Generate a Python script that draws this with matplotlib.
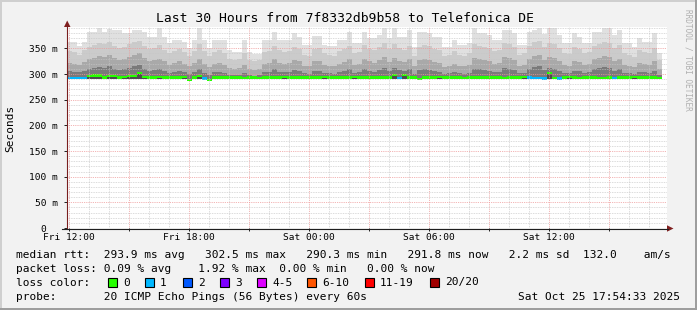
import numpy as np
import matplotlib
matplotlib.use("Agg")
import matplotlib.pyplot as plt
from matplotlib.patches import Rectangle, Polygon
from matplotlib.lines import Line2D
from matplotlib.ticker import MultipleLocator, FixedLocator

plt.rcParams['font.family'] = ['DejaVu Sans Mono', 'DejaVu Sans']

W, H = 697, 310

title = "Last 30 Hours from 7f8332db9b58 to Telefonica DE"
x_tick_hours = [0, 6, 12, 18, 24]
x_tick_labels = ["Fri 12:00", "Fri 18:00", "Sat 00:00", "Sat 06:00", "Sat 12:00"]
y_ticks = [0, 50, 100, 150, 200, 250, 300, 350]
y_tick_labels = ["0  ", "50 m", "100 m", "150 m", "200 m", "250 m", "300 m", "350 m"]

# samples: 15 min steps, first one just before Fri 12:00 (hours)
first_sample = -0.09
step_hours = 0.25

# median rtt per step (ms)
median_ms = [292, 292, 292, 292, 296, 297, 297, 293, 296, 296,
             293, 294, 296, 296, 302, 294, 293, 293, 294, 293,
             293, 293, 293, 294, 288, 293, 296, 291, 288, 293,
             293, 293, 293, 293, 293, 292, 293, 293, 292, 293,
             293, 293, 293, 294, 293, 293, 293, 293, 293, 293,
             293, 294, 293, 293, 293, 293, 293, 294, 293, 293,
             293, 293, 293, 293, 293, 298, 292, 298, 293, 293,
             290, 293, 293, 293, 294, 293, 293, 293, 293, 292,
             293, 293, 293, 293, 293, 293, 293, 292, 293, 293,
             293, 294, 293, 292, 292, 291, 302, 292, 291, 293,
             294, 293, 292, 293, 293, 293, 292, 292, 293, 292,
             293, 293, 293, 294, 293, 293, 293, 293, 292]

# lost pings (of 20) per step
lost_pings = [1, 1, 1, 1, 0, 0, 0, 0, 0, 0,
              0, 0, 0, 0, 0, 0, 0, 0, 0, 0,
              0, 0, 0, 0, 0, 0, 0, 1, 0, 0,
              0, 0, 0, 0, 0, 0, 0, 0, 0, 0,
              0, 0, 0, 0, 0, 0, 0, 0, 0, 0,
              0, 0, 0, 0, 0, 0, 0, 0, 0, 0,
              0, 0, 0, 0, 0, 0, 1, 0, 0, 0,
              0, 0, 0, 0, 0, 0, 0, 0, 0, 0,
              0, 0, 0, 0, 0, 0, 0, 0, 0, 0,
              0, 0, 1, 1, 1, 1, 0, 0, 1, 0,
              0, 0, 0, 0, 0, 0, 0, 0, 0, 1,
              0, 0, 0, 0, 0, 0, 0, 0, 0]

# smoke: lowest ping, three intermediate ping levels and highest ping (ms)
smoke_low = [290, 290, 290, 290, 291, 291, 291, 291, 291, 291,
             291, 291, 291, 291, 291, 291, 291, 291, 291, 291,
             291, 291, 291, 291, 286, 291, 291, 289, 286, 291,
             291, 291, 291, 291, 291, 290, 291, 291, 290, 291,
             291, 291, 291, 291, 291, 291, 291, 291, 291, 291,
             291, 291, 291, 291, 291, 291, 291, 291, 291, 291,
             291, 291, 291, 291, 291, 291, 290, 291, 291, 291,
             288, 291, 291, 291, 291, 291, 291, 291, 291, 290,
             291, 291, 291, 291, 291, 291, 291, 290, 291, 291,
             291, 291, 291, 290, 290, 289, 290, 290, 289, 291,
             291, 291, 290, 291, 291, 291, 290, 290, 291, 290,
             291, 291, 291, 291, 291, 291, 291, 291, 290]
smoke_top = [362, 362, 355, 362, 382, 382, 389, 382, 387, 386,
             386, 380, 380, 386, 386, 382, 373, 373, 389, 373,
             361, 367, 367, 362, 351, 367, 389, 367, 351, 367,
             367, 367, 347, 342, 342, 367, 343, 339, 339, 367,
             367, 382, 367, 367, 367, 380, 373, 357, 357, 374,
             374, 357, 355, 355, 367, 367, 382, 360, 360, 382,
             370, 370, 376, 389, 370, 389, 373, 373, 386, 353,
             382, 382, 380, 373, 373, 353, 353, 366, 357, 357,
             360, 389, 380, 380, 376, 366, 366, 386, 386, 380,
             357, 357, 382, 386, 389, 378, 389, 389, 376, 360,
             360, 380, 373, 360, 360, 382, 382, 389, 389, 376,
             386, 360, 360, 353, 370, 363, 363, 380, 341]
smoke_l1 = [345, 343, 338, 346, 352, 356, 360, 358, 362, 355,
            350, 352, 358, 362, 365, 355, 348, 350, 356, 347,
            340, 345, 348, 343, 336, 344, 358, 345, 335, 342,
            346, 340, 330, 328, 330, 341, 327, 325, 328, 343,
            345, 355, 346, 342, 345, 352, 348, 338, 336, 349,
            350, 340, 337, 335, 344, 348, 355, 340, 342, 356,
            348, 346, 352, 360, 348, 358, 350, 347, 355, 336,
            352, 356, 354, 348, 346, 335, 337, 344, 338, 336,
            340, 358, 355, 352, 350, 344, 346, 360, 358, 352,
            338, 340, 355, 362, 365, 352, 360, 358, 350, 340,
            339, 352, 348, 340, 342, 355, 358, 362, 360, 350,
            356, 340, 338, 334, 346, 342, 340, 350, 328]
smoke_l2 = [322, 320, 318, 324, 330, 332, 336, 334, 338, 332,
            328, 330, 334, 338, 340, 332, 326, 328, 330, 325,
            318, 322, 325, 320, 315, 322, 330, 320, 314, 320,
            322, 318, 312, 310, 312, 318, 310, 308, 310, 320,
            322, 330, 322, 320, 322, 328, 325, 316, 315, 325,
            326, 318, 316, 315, 320, 324, 330, 318, 320, 330,
            325, 322, 328, 334, 324, 332, 326, 324, 330, 315,
            328, 330, 328, 324, 322, 314, 316, 320, 316, 315,
            318, 332, 330, 328, 326, 320, 322, 334, 332, 328,
            316, 318, 330, 336, 338, 328, 334, 332, 326, 318,
            316, 326, 324, 318, 320, 330, 332, 336, 334, 326,
            330, 318, 316, 314, 322, 320, 318, 325, 310]
smoke_l3 = [305, 304, 303, 306, 309, 311, 314, 312, 315, 310,
            308, 309, 312, 315, 318, 310, 306, 307, 309, 305,
            302, 304, 306, 303, 300, 304, 310, 302, 299, 303,
            304, 302, 299, 298, 299, 302, 298, 297, 298, 303,
            304, 309, 304, 303, 304, 308, 306, 301, 300, 305,
            306, 302, 301, 300, 303, 305, 309, 302, 303, 309,
            306, 304, 307, 312, 305, 311, 307, 305, 309, 300,
            307, 309, 308, 305, 304, 300, 301, 303, 301, 300,
            302, 310, 309, 308, 306, 303, 304, 312, 310, 308,
            301, 302, 309, 314, 316, 307, 312, 310, 306, 302,
            301, 306, 305, 302, 303, 309, 311, 314, 312, 306,
            309, 302, 301, 300, 304, 303, 302, 306, 298]

loss_labels = ["0", "1", "2", "3", "4-5", "6-10", "11-19", "20/20"]
loss_colors = ["#26ff00", "#00b8ff", "#0059ff", "#7e00ff",
               "#dd00ff", "#ff5500", "#ff0000", "#a10000"]

legend_rtt = ("median rtt:  293.9 ms avg   302.5 ms max   290.3 ms min   "
              "291.8 ms now   2.2 ms sd  132.0    am/s")
legend_loss = "packet loss: 0.09 % avg    1.92 % max  0.00 % min   0.00 % now"
probe_text = "probe:       20 ICMP Echo Pings (56 Bytes) every 60s"
stamp_text = "Sat Oct 25 17:54:33 2025"


def loss_index(n):
    if n <= 3:
        return n
    if n <= 5:
        return 4
    if n <= 10:
        return 5
    if n < 20:
        return 6
    return 7


fig = plt.figure(figsize=(W / 100, H / 100), dpi=100, facecolor="#f2f2f2")


def px_rect(x, y, w, h, **kw):
    fig.add_artist(Rectangle((x / W, 1 - (y + h) / H), w / W, h / H,
                             transform=fig.transFigure, **kw))


def px_line(x0, y0, x1, y1, **kw):
    fig.add_artist(Line2D([x0 / W, x1 / W], [1 - y0 / H, 1 - y1 / H],
                          transform=fig.transFigure, **kw))


def px_poly(pts, **kw):
    fig.add_artist(Polygon([(x / W, 1 - y / H) for x, y in pts],
                           transform=fig.transFigure, **kw))


def px_text(x, y, s, **kw):
    fig.text(x / W, 1 - y / H, s, **kw)


ax = fig.add_axes([67 / W, (H - 228) / H, 600 / W, 201 / H])
ax.set_facecolor("white")

n = len(median_ms)
edges = first_sample + step_hours * np.arange(n + 1)


def stepped(vals):
    v = np.asarray(vals, dtype=float)
    return np.append(v, v[-1])


med = np.asarray(median_ms, dtype=float)

# smoke layers, outer light to inner dark
layers = [(smoke_l1, smoke_top, "#e0e0e0"),
          (smoke_l2, smoke_l1, "#cbcbcb"),
          (smoke_l3, smoke_l2, "#a9a9a9"),
          (median_ms, smoke_l3, "#7a7a7a"),
          (smoke_low, median_ms, "#4c4c4c")]
for lo, hi, col in layers:
    ax.fill_between(edges, stepped(lo), stepped(hi), step="post",
                    color=col, linewidth=0, zorder=1)

# median band coloured by packet loss
band = 4.5
for i in range(n):
    col = loss_colors[loss_index(lost_pings[i])]
    ax.fill_between(edges[i:i + 2], med[i] - band / 2, med[i] + band / 2,
                    color=col, linewidth=0, antialiased=False, zorder=1.5)

ax.set_xlim(-0.09, 29.91)
ax.set_ylim(0, 201 / 0.5133)

ax.xaxis.set_major_locator(MultipleLocator(3))
ax.xaxis.set_minor_locator(MultipleLocator(1))
ax.yaxis.set_major_locator(FixedLocator(y_ticks))
ax.yaxis.set_minor_locator(MultipleLocator(10))
ax.set_xticklabels([])
ax.set_yticklabels(y_tick_labels)

ax.set_axisbelow(False)
ax.grid(which="minor", color="#c6c6c6", linestyle=(0, (1, 1.2)), linewidth=0.55)
ax.grid(which="major", color="#ee9a9a", linestyle=(0, (1, 1.2)), linewidth=0.6)

for s in ax.spines.values():
    s.set_visible(False)
ax.tick_params(axis="both", which="minor", length=0)
ax.tick_params(axis="y", which="major", length=2, width=0.7, color="#1f1f1f",
               pad=4.5, labelsize=6.8)
ax.tick_params(axis="x", which="major", length=2, width=0.7, color="#1f1f1f",
               pad=1.5, labelsize=6.8)

for h, lab in zip(x_tick_hours, x_tick_labels):
    ax.text(h, -0.025, lab, transform=ax.get_xaxis_transform(), ha="center",
            va="top", fontsize=6.8)

# axes with arrows
px_line(67, 229, 67, 24, color="#7a1e1e", linewidth=0.8)
px_poly([(64, 27), (70.5, 27), (67.2, 20.5)], closed=True, color="#801f1f",
        linewidth=0)
px_line(62, 228.5, 668, 228.5, color="#1f1f1f", linewidth=0.8)
px_poly([(667, 225.3), (667, 231.7), (673.5, 228.5)], closed=True,
        color="#801f1f", linewidth=0)

px_text(345, 19, title, ha="center", va="center", fontsize=9.35)
px_text(10, 128, "Seconds", rotation=90, ha="center", va="center", fontsize=8)
px_text(688, 60, "RRDTOOL / TOBI OETIKER", rotation=270, ha="center",
        va="center", fontsize=5.6, color="#b0b0b0")

px_text(16, 257.5, legend_rtt, fontsize=8.05, va="baseline")
px_text(16, 271.5, legend_loss, fontsize=8.05, va="baseline")
px_text(16, 285.5, "loss color:", fontsize=8.05, va="baseline")
box_x = [108, 145, 183, 220, 257, 307, 365, 430]
for bx, lab, col in zip(box_x, loss_labels, loss_colors):
    px_rect(bx, 277.5, 9, 9, facecolor=col, edgecolor="black", linewidth=0.8)
    px_text(bx + 15, 285.5, lab, fontsize=8.05, va="baseline")
px_text(16, 299.5, probe_text, fontsize=8.05, va="baseline")
px_text(680, 299.5, stamp_text, fontsize=8.05, va="baseline", ha="right")

# image frame shading
px_rect(0, 0, W, 2, color="#cfcfcf", linewidth=0)
px_rect(0, 0, 2, H, color="#cfcfcf", linewidth=0)
px_rect(0, H - 2, W, 2, color="#9e9e9e", linewidth=0)
px_rect(W - 2, 0, 2, H, color="#9e9e9e", linewidth=0)

fig.savefig("out.png", dpi=100, facecolor=fig.get_facecolor())
